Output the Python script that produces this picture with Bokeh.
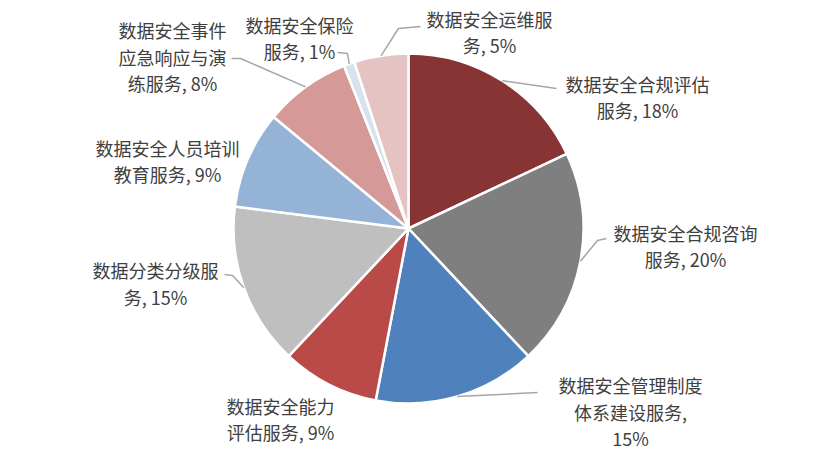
import math
from bokeh.plotting import figure
from bokeh.models import ColumnDataSource, Range1d
from bokeh.core.properties import value
from bokeh.embed import file_html
from bokeh.resources import INLINE

# ---- data ----
categories = [
    "数据安全合规评估服务", "数据安全合规咨询服务", "数据安全管理制度体系建设服务",
    "数据安全能力评估服务", "数据分类分级服务", "数据安全人员培训教育服务",
    "数据安全事件应急响应与演练服务", "数据安全保险服务", "数据安全运维服务",
]
shares = [18, 20, 15, 9, 15, 9, 8, 1, 5]
label_lines = [
    ["数据安全合规评估", "服务, 18%"],
    ["数据安全合规咨询", "服务, 20%"],
    ["数据安全管理制度", "体系建设服务,", "15%"],
    ["数据安全能力", "评估服务, 9%"],
    ["数据分类分级服", "务, 15%"],
    ["数据安全人员培训", "教育服务, 9%"],
    ["数据安全事件", "应急响应与演", "练服务, 8%"],
    ["数据安全保险", "服务, 1%"],
    ["数据安全运维服", "务, 5%"],
]
colors = ["#883435", "#7F7F7F", "#4F81BD", "#B94A48", "#BFBFBF",
          "#95B3D7", "#D59A98", "#D6E3EF", "#E6C3C3"]

# ---- layout (picture pixel coords: x right, y down) ----
W, H = 817, 457
def Y(img_y):
    return H - img_y

CX, CY, R = 408, 228, 175
label_centers = [(637, 96.5), (685, 245.5), (630, 411), (280, 418.5), (155, 283),
                 (167, 160.5), (172, 56), (299, 37.5), (489, 31.5)]
LINE_H = 26.5
leader_pts = [
    [(556, 88)],
    [(597, 240), (606, 238)],
    [(537, 392)],
    None,
    [(232, 275), (224, 274)],
    None,
    [(240, 58), (231, 58)],
    [(347, 53), (337, 52)],
    [(398, 28), (420, 26)],
]

total = float(sum(shares))
starts, ends, mids = [], [], []
cum = 0.0
for s in shares:
    a0 = math.pi / 2 - 2 * math.pi * cum / total
    cum += s
    a1 = math.pi / 2 - 2 * math.pi * cum / total
    starts.append(a0)
    ends.append(a1)
    mids.append((a0 + a1) / 2)

p = figure(width=W, height=H, output_backend="svg", toolbar_location=None,
           x_range=Range1d(0, W), y_range=Range1d(0, H), min_border=0)
p.axis.visible = False
p.grid.visible = False
p.outline_line_color = None
p.background_fill_color = "white"
p.border_fill_color = "white"

src = ColumnDataSource(dict(cat=categories, share=shares, start=starts, end=ends, color=colors))
p.wedge(x=CX, y=Y(CY), radius=R, start_angle="start", end_angle="end",
        direction="clock", fill_color="color", line_color="white", line_width=2.5,
        source=src)

for i, pts in enumerate(leader_pts):
    if pts is None:
        continue
    sx = CX + R * math.cos(mids[i])
    sy = CY - R * math.sin(mids[i])
    xs = [sx] + [q[0] for q in pts]
    ys = [Y(sy)] + [Y(q[1]) for q in pts]
    p.line(xs, ys, line_color="#A6A6A6", line_width=1.5)

tx, ty, tt = [], [], []
for (lx, ly), lines in zip(label_centers, label_lines):
    n = len(lines)
    for k, t in enumerate(lines):
        tx.append(lx)
        ty.append(Y(ly + (k - (n - 1) / 2) * LINE_H))
        tt.append(t)
p.text(x=tx, y=ty, text=tt, text_align="center", text_baseline="middle",
       text_font=value("Noto Sans CJK SC"), text_font_size="18px", text_color="#404040")

open("out.html", "w").write(file_html(p, INLINE))
